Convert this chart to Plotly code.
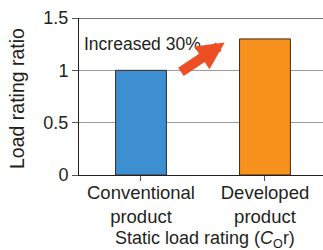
import plotly.graph_objects as go

categories = ["Conventional<br>product", "Developed<br>product"]
values = [1.0, 1.3]
bar_colors = ["#3D8FD1", "#F7921E"]
y_ticks = [0, 0.5, 1, 1.5]
y_tick_labels = ["0", "0.5", "1", "1.5"]
annotation_text = "Increased 30%"
x_title = "Static load rating (<i>C</i><sub>O</sub>r)"
y_title = "Load rating ratio"

FONT = "Liberation Sans, Arial, sans-serif"
TXT = "#231F20"

fig = go.Figure()
fig.add_trace(go.Bar(
    x=[0, 1], y=values, width=0.41,
    marker=dict(color=bar_colors, line=dict(color="#3B2A1C", width=1)),
    hoverinfo="skip",
))

fig.update_layout(
    width=323, height=250,
    margin=dict(l=79, r=0, t=18, b=75, autoexpand=False),
    paper_bgcolor="white", plot_bgcolor="white",
    showlegend=False,
    font=dict(family=FONT, size=18, color=TXT),
    xaxis=dict(
        range=[-0.5, 1.468], automargin=False,
        tickmode="array", tickvals=[0, 1], ticktext=categories,
        tickson="boundaries", ticks="outside", ticklen=5, tickcolor="#555",
        ticklabelstandoff=-4,
        showline=True, linecolor="#231F20", linewidth=1,
        showgrid=False, zeroline=False,
        tickfont=dict(size=18.5),
    ),
    yaxis=dict(
        range=[0, 1.5], automargin=False,
        tickmode="array", tickvals=y_ticks, ticktext=y_tick_labels,
        ticks="outside", ticklen=6, tickcolor="#555",
        showline=True, linecolor="#231F20", linewidth=1,
        showgrid=True, gridcolor="#9A9A9A", gridwidth=1,
        zeroline=False,
        tickfont=dict(size=18),
    ),
    shapes=[dict(type="line", xref="paper", yref="y", x0=0, x1=1, y0=1.5, y1=1.5,
                 line=dict(color="#444", width=1.5))],
    annotations=[
        dict(x=0.01, y=1.25, xref="x", yref="y", text=annotation_text,
             showarrow=False, font=dict(size=17.5, color=TXT)),
        dict(x=0.675, y=1.265, xref="x", yref="y", ax=0.31, ay=0.975,
             axref="x", ayref="y", text="", showarrow=True,
             arrowhead=2, arrowsize=0.55, arrowwidth=10, arrowcolor="#EE4E24"),
        dict(x=17, y=99, xref="paper", yref="paper", text=y_title, textangle=-90,
             xanchor="center", yanchor="middle",
             showarrow=False, font=dict(size=19.5, color=TXT)),
        dict(x=205, y=239, xref="paper", yref="paper", text=x_title,
             xanchor="center", yanchor="middle",
             showarrow=False, font=dict(size=18, color=TXT)),
    ],
)

# convert pixel title positions to paper coordinates
W, H = 323, 250
L, R, T, B = 79, 0, 18, 75
pw, ph = W - L - R, H - T - B
for a in fig.layout.annotations[2:]:
    a.x = (a.x - L) / pw
    a.y = (H - B - a.y) / ph

fig.write_html("out.html", config={"displayModeBar": False, "staticPlot": True},
               post_script="document.body.style.margin='0';document.body.style.padding='0';")
